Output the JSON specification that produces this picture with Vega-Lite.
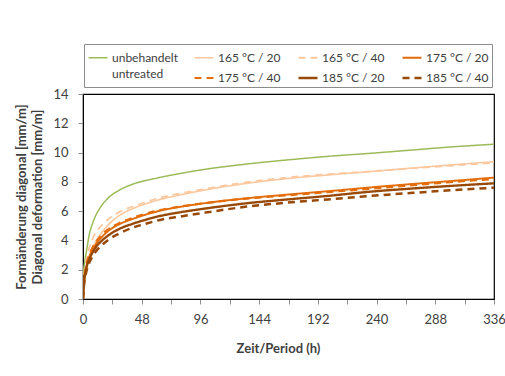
{
  "$schema": "https://vega.github.io/schema/vega-lite/v6.json",
  "autosize": {"type": "none"},
  "width": 411,
  "height": 205,
  "padding": {"left": 83, "top": 94, "right": 11, "bottom": 77},
  "background": "white",
  "config": {
    "font": "Lato",
    "view": {"stroke": "#000000", "strokeWidth": 1.2},
    "axis": {"grid": false, "labelFont": "Lato", "labelFontSize": 13, "labelColor": "#404040", "titleFont": "Lato", "titleFontSize": 13, "titleFontWeight": "bold", "titleColor": "#404040", "domainColor": "#000000", "tickColor": "#8c8c8c", "tickSize": 5}
  },
  "data": {
    "values": [
      {"t": 0, "v": 1.6, "s": "unbehandelt"}, {"t": 1, "v": 2.3, "s": "unbehandelt"}, {"t": 2, "v": 2.85, "s": "unbehandelt"}, {"t": 3, "v": 3.35, "s": "unbehandelt"}, {"t": 5, "v": 4.35, "s": "unbehandelt"}, {"t": 8, "v": 5.2, "s": "unbehandelt"}, {"t": 11, "v": 5.8, "s": "unbehandelt"}, {"t": 15, "v": 6.35, "s": "unbehandelt"}, {"t": 20, "v": 6.85, "s": "unbehandelt"}, {"t": 30, "v": 7.45, "s": "unbehandelt"}, {"t": 40, "v": 7.82, "s": "unbehandelt"}, {"t": 60, "v": 8.25, "s": "unbehandelt"}, {"t": 80, "v": 8.58, "s": "unbehandelt"}, {"t": 100, "v": 8.86, "s": "unbehandelt"}, {"t": 134, "v": 9.22, "s": "unbehandelt"}, {"t": 170, "v": 9.52, "s": "unbehandelt"}, {"t": 200, "v": 9.74, "s": "unbehandelt"}, {"t": 235, "v": 9.95, "s": "unbehandelt"}, {"t": 270, "v": 10.18, "s": "unbehandelt"}, {"t": 300, "v": 10.38, "s": "unbehandelt"}, {"t": 336, "v": 10.57, "s": "unbehandelt"},

      {"t": 0, "v": 0, "s": "165 °C / 20"}, {"t": 1, "v": 1.2, "s": "165 °C / 20"}, {"t": 2, "v": 1.8, "s": "165 °C / 20"}, {"t": 3, "v": 2.2, "s": "165 °C / 20"}, {"t": 5, "v": 2.85, "s": "165 °C / 20"}, {"t": 8, "v": 3.55, "s": "165 °C / 20"}, {"t": 11, "v": 4.0, "s": "165 °C / 20"}, {"t": 15, "v": 4.5, "s": "165 °C / 20"}, {"t": 20, "v": 5.0, "s": "165 °C / 20"}, {"t": 30, "v": 5.72, "s": "165 °C / 20"}, {"t": 40, "v": 6.15, "s": "165 °C / 20"}, {"t": 52, "v": 6.52, "s": "165 °C / 20"}, {"t": 63, "v": 6.8, "s": "165 °C / 20"}, {"t": 80, "v": 7.12, "s": "165 °C / 20"}, {"t": 100, "v": 7.45, "s": "165 °C / 20"}, {"t": 134, "v": 7.9, "s": "165 °C / 20"}, {"t": 170, "v": 8.25, "s": "165 °C / 20"}, {"t": 200, "v": 8.47, "s": "165 °C / 20"}, {"t": 235, "v": 8.7, "s": "165 °C / 20"}, {"t": 270, "v": 8.95, "s": "165 °C / 20"}, {"t": 300, "v": 9.15, "s": "165 °C / 20"}, {"t": 336, "v": 9.38, "s": "165 °C / 20"},

      {"t": 0, "v": 0, "s": "165 °C / 40"}, {"t": 1, "v": 1.6, "s": "165 °C / 40"}, {"t": 2, "v": 2.3, "s": "165 °C / 40"}, {"t": 3, "v": 2.8, "s": "165 °C / 40"}, {"t": 5, "v": 3.5, "s": "165 °C / 40"}, {"t": 8, "v": 4.15, "s": "165 °C / 40"}, {"t": 11, "v": 4.6, "s": "165 °C / 40"}, {"t": 15, "v": 5.0, "s": "165 °C / 40"}, {"t": 20, "v": 5.4, "s": "165 °C / 40"}, {"t": 30, "v": 5.95, "s": "165 °C / 40"}, {"t": 40, "v": 6.3, "s": "165 °C / 40"}, {"t": 52, "v": 6.65, "s": "165 °C / 40"}, {"t": 63, "v": 6.92, "s": "165 °C / 40"}, {"t": 80, "v": 7.22, "s": "165 °C / 40"}, {"t": 100, "v": 7.52, "s": "165 °C / 40"}, {"t": 134, "v": 7.98, "s": "165 °C / 40"}, {"t": 170, "v": 8.32, "s": "165 °C / 40"}, {"t": 200, "v": 8.52, "s": "165 °C / 40"}, {"t": 235, "v": 8.72, "s": "165 °C / 40"}, {"t": 270, "v": 8.93, "s": "165 °C / 40"}, {"t": 300, "v": 9.1, "s": "165 °C / 40"}, {"t": 336, "v": 9.3, "s": "165 °C / 40"},

      {"t": 0, "v": 0, "s": "175 °C / 20"}, {"t": 1, "v": 1.3, "s": "175 °C / 20"}, {"t": 2, "v": 1.9, "s": "175 °C / 20"}, {"t": 3, "v": 2.3, "s": "175 °C / 20"}, {"t": 5, "v": 2.85, "s": "175 °C / 20"}, {"t": 8, "v": 3.4, "s": "175 °C / 20"}, {"t": 11, "v": 3.8, "s": "175 °C / 20"}, {"t": 15, "v": 4.2, "s": "175 °C / 20"}, {"t": 20, "v": 4.6, "s": "175 °C / 20"}, {"t": 30, "v": 5.12, "s": "175 °C / 20"}, {"t": 40, "v": 5.45, "s": "175 °C / 20"}, {"t": 52, "v": 5.78, "s": "175 °C / 20"}, {"t": 63, "v": 6.03, "s": "175 °C / 20"}, {"t": 80, "v": 6.3, "s": "175 °C / 20"}, {"t": 100, "v": 6.55, "s": "175 °C / 20"}, {"t": 134, "v": 6.88, "s": "175 °C / 20"}, {"t": 170, "v": 7.15, "s": "175 °C / 20"}, {"t": 200, "v": 7.36, "s": "175 °C / 20"}, {"t": 235, "v": 7.62, "s": "175 °C / 20"}, {"t": 270, "v": 7.86, "s": "175 °C / 20"}, {"t": 300, "v": 8.05, "s": "175 °C / 20"}, {"t": 336, "v": 8.29, "s": "175 °C / 20"},

      {"t": 0, "v": 0, "s": "175 °C / 40"}, {"t": 1, "v": 1.45, "s": "175 °C / 40"}, {"t": 2, "v": 2.05, "s": "175 °C / 40"}, {"t": 3, "v": 2.45, "s": "175 °C / 40"}, {"t": 5, "v": 3.0, "s": "175 °C / 40"}, {"t": 8, "v": 3.55, "s": "175 °C / 40"}, {"t": 11, "v": 3.95, "s": "175 °C / 40"}, {"t": 15, "v": 4.35, "s": "175 °C / 40"}, {"t": 20, "v": 4.72, "s": "175 °C / 40"}, {"t": 30, "v": 5.2, "s": "175 °C / 40"}, {"t": 40, "v": 5.52, "s": "175 °C / 40"}, {"t": 52, "v": 5.84, "s": "175 °C / 40"}, {"t": 63, "v": 6.07, "s": "175 °C / 40"}, {"t": 80, "v": 6.32, "s": "175 °C / 40"}, {"t": 100, "v": 6.55, "s": "175 °C / 40"}, {"t": 134, "v": 6.86, "s": "175 °C / 40"}, {"t": 170, "v": 7.1, "s": "175 °C / 40"}, {"t": 200, "v": 7.3, "s": "175 °C / 40"}, {"t": 235, "v": 7.53, "s": "175 °C / 40"}, {"t": 270, "v": 7.77, "s": "175 °C / 40"}, {"t": 300, "v": 7.98, "s": "175 °C / 40"}, {"t": 336, "v": 8.2, "s": "175 °C / 40"},

      {"t": 0, "v": 0, "s": "185 °C / 20"}, {"t": 1, "v": 1.25, "s": "185 °C / 20"}, {"t": 2, "v": 1.8, "s": "185 °C / 20"}, {"t": 3, "v": 2.2, "s": "185 °C / 20"}, {"t": 5, "v": 2.7, "s": "185 °C / 20"}, {"t": 8, "v": 3.2, "s": "185 °C / 20"}, {"t": 11, "v": 3.6, "s": "185 °C / 20"}, {"t": 15, "v": 3.95, "s": "185 °C / 20"}, {"t": 20, "v": 4.3, "s": "185 °C / 20"}, {"t": 30, "v": 4.8, "s": "185 °C / 20"}, {"t": 40, "v": 5.12, "s": "185 °C / 20"}, {"t": 52, "v": 5.43, "s": "185 °C / 20"}, {"t": 63, "v": 5.67, "s": "185 °C / 20"}, {"t": 80, "v": 5.93, "s": "185 °C / 20"}, {"t": 100, "v": 6.18, "s": "185 °C / 20"}, {"t": 134, "v": 6.54, "s": "185 °C / 20"}, {"t": 170, "v": 6.82, "s": "185 °C / 20"}, {"t": 200, "v": 7.04, "s": "185 °C / 20"}, {"t": 235, "v": 7.33, "s": "185 °C / 20"}, {"t": 270, "v": 7.55, "s": "185 °C / 20"}, {"t": 300, "v": 7.72, "s": "185 °C / 20"}, {"t": 336, "v": 7.9, "s": "185 °C / 20"},

      {"t": 0, "v": 0, "s": "185 °C / 40"}, {"t": 1, "v": 1.1, "s": "185 °C / 40"}, {"t": 2, "v": 1.6, "s": "185 °C / 40"}, {"t": 3, "v": 1.95, "s": "185 °C / 40"}, {"t": 5, "v": 2.45, "s": "185 °C / 40"}, {"t": 8, "v": 2.95, "s": "185 °C / 40"}, {"t": 11, "v": 3.3, "s": "185 °C / 40"}, {"t": 15, "v": 3.65, "s": "185 °C / 40"}, {"t": 20, "v": 4.0, "s": "185 °C / 40"}, {"t": 30, "v": 4.49, "s": "185 °C / 40"}, {"t": 40, "v": 4.85, "s": "185 °C / 40"}, {"t": 52, "v": 5.16, "s": "185 °C / 40"}, {"t": 63, "v": 5.4, "s": "185 °C / 40"}, {"t": 80, "v": 5.64, "s": "185 °C / 40"}, {"t": 100, "v": 5.9, "s": "185 °C / 40"}, {"t": 134, "v": 6.31, "s": "185 °C / 40"}, {"t": 170, "v": 6.6, "s": "185 °C / 40"}, {"t": 200, "v": 6.8, "s": "185 °C / 40"}, {"t": 235, "v": 7.04, "s": "185 °C / 40"}, {"t": 270, "v": 7.25, "s": "185 °C / 40"}, {"t": 300, "v": 7.42, "s": "185 °C / 40"}, {"t": 336, "v": 7.6, "s": "185 °C / 40"}
    ]
  },
  "mark": {"type": "line", "interpolate": "monotone", "clip": true},
  "encoding": {
    "x": {
      "field": "t", "type": "quantitative",
      "scale": {"domain": [0, 336], "nice": false},
      "axis": {
        "title": "Zeit/Period (h)",
        "values": [0, 24, 48, 72, 96, 120, 144, 168, 192, 216, 240, 264, 288, 312, 336],
        "labelExpr": "datum.value % 48 === 0 ? datum.label : ''",
        "labelPadding": 9, "titlePadding": 16, "titleX": 195, "labelFlush": false
      }
    },
    "y": {
      "field": "v", "type": "quantitative",
      "scale": {"domain": [0, 14], "nice": false},
      "axis": {
        "title": ["Formänderung diagonal [mm/m]", "Diagonal deformation [mm/m]"],
        "values": [0, 2, 4, 6, 8, 10, 12, 14],
        "labelPadding": 10, "titlePadding": 8, "titleLineHeight": 16
      }
    },
    "color": {
      "field": "s", "type": "nominal",
      "scale": {
        "domain": ["unbehandelt", "165 °C / 20", "165 °C / 40", "175 °C / 20", "untreated", "175 °C / 40", "185 °C / 20", "185 °C / 40"],
        "range": ["#9bbb59", "#fcc8a0", "#fcc8a0", "#e46c0a", "rgba(0,0,0,0)", "#e46c0a", "#984807", "#984807"]
      },
      "legend": {
        "title": null,
        "orient": "none",
        "legendX": 1,
        "legendY": -50,
        "direction": "horizontal",
        "columns": 4,
        "columnPadding": 12,
        "rowPadding": 3,
        "padding": 3,
        "strokeColor": "#8c8c8c",
        "fillColor": "white",
        "symbolType": "stroke",
        "symbolSize": 361,
        "labelOffset": 3,
        "labelFont": "Lato",
        "labelFontSize": 12,
        "labelColor": "#404040",
        "labelLimit": 200,
        "encode": {"labels": {"update": {"dy": {"signal": "datum.label === 'untreated' ? -4 : 0"}}}}
      }
    },
    "strokeDash": {
      "field": "s", "type": "nominal",
      "scale": {
        "domain": ["unbehandelt", "165 °C / 20", "165 °C / 40", "175 °C / 20", "untreated", "175 °C / 40", "185 °C / 20", "185 °C / 40"],
        "range": [[1, 0], [1, 0], [7, 5], [1, 0], [1, 0], [7, 5], [1, 0], [7, 5]]
      }
    },
    "strokeWidth": {
      "field": "s", "type": "nominal",
      "scale": {
        "domain": ["unbehandelt", "165 °C / 20", "165 °C / 40", "175 °C / 20", "untreated", "175 °C / 40", "185 °C / 20", "185 °C / 40"],
        "range": [1.5, 2.5, 2.5, 2.5, 2.5, 2.5, 2.5, 2.5]
      }
    }
  }
}
